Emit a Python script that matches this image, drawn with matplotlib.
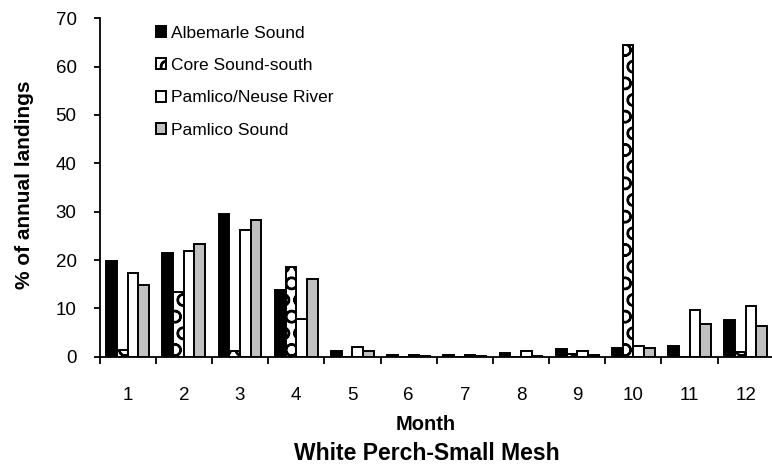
import matplotlib
matplotlib.use("Agg")
import matplotlib.pyplot as plt
import numpy as np

plt.rcParams['font.family'] = ['Liberation Sans', 'DejaVu Sans']
plt.rcParams['hatch.linewidth'] = 1.6

months = [1, 2, 3, 4, 5, 6, 7, 8, 9, 10, 11, 12]
month_labels = ["1", "2", "3", "4", "5", "6", "7", "8", "9", "10", "11", "12"]
series_names = ["Albemarle Sound", "Core Sound-south", "Pamlico/Neuse River", "Pamlico Sound"]
albemarle = [19.7, 21.4, 29.5, 13.8, 1.2, 0.4, 0.4, 0.8, 1.5, 1.9, 2.3, 7.5]
core_south = [1.3, 13.4, 1.2, 18.5, 0.0, 0.0, 0.0, 0.0, 0.5, 64.5, 0.0, 1.0]
pamlico_neuse = [17.3, 21.8, 26.2, 7.7, 2.0, 0.3, 0.3, 1.2, 1.1, 2.3, 9.7, 10.4]
pamlico_sound = [14.9, 23.3, 28.2, 16.1, 1.2, 0.1, 0.1, 0.1, 0.3, 1.9, 6.8, 6.3]
yticks = [0, 10, 20, 30, 40, 50, 60, 70]

fig = plt.figure(figsize=(7.72, 4.72), dpi=100)
ax = fig.add_axes([99.5 / 772, 115.3 / 472, 674.4 / 772, 338.4 / 472])

x = np.array(months, dtype=float)
w = 0.19
series = [albemarle, core_south, pamlico_neuse, pamlico_sound]
faces = ["black", "white", "white", "#c0c0c0"]
hatches = [None, "O", None, None]
for i, (vals, fc, h, name) in enumerate(zip(series, faces, hatches, series_names)):
    ax.bar(x + (i - 1.5) * w, vals, width=w, color=fc, edgecolor="black",
           linewidth=1.4, hatch=h, label=name, zorder=2)

ax.set_xlim(0.5, 12.5)
ax.set_ylim(0, 70)
ax.set_yticks(yticks)
ax.set_yticklabels([str(v) for v in yticks], fontsize=13.5)
ax.set_xticks(np.arange(0.5, 13.0, 1.0))
ax.set_xticklabels([])
ax.set_xticks(x, minor=True)
ax.set_xticklabels(month_labels, minor=True, fontsize=13.5)
ax.tick_params(axis='x', which='major', direction='out', length=5, width=1.3)
ax.tick_params(axis='x', which='minor', length=0, pad=21.5)
ax.tick_params(axis='y', direction='out', length=4.5, width=1.3, pad=12)
for s in ['top', 'right']:
    ax.spines[s].set_visible(False)
for s in ['left', 'bottom']:
    ax.spines[s].set_linewidth(1.3)

fig.text(426 / 772, 1 - 425 / 472, "Month", fontsize=14.5, fontweight='bold', ha='center', va='center')
fig.text(427 / 772, 1 - 453 / 472, "White Perch-Small Mesh", fontsize=16.5, fontweight='bold', ha='center', va='center')
fig.text(25 / 772, 1 - 185 / 472, "% of annual landings", fontsize=15, fontweight='bold', ha='center', va='center', rotation=90)

leg = ax.legend(loc='upper left', bbox_to_anchor=(156 / 772, 1 - 25.5 / 472),
                bbox_transform=fig.transFigure, frameon=False, fontsize=12.5,
                handlelength=0.6, handleheight=0.6, handletextpad=0.25,
                labelspacing=1.0, borderpad=0, borderaxespad=0)

fig.savefig("out.png", dpi=100)
